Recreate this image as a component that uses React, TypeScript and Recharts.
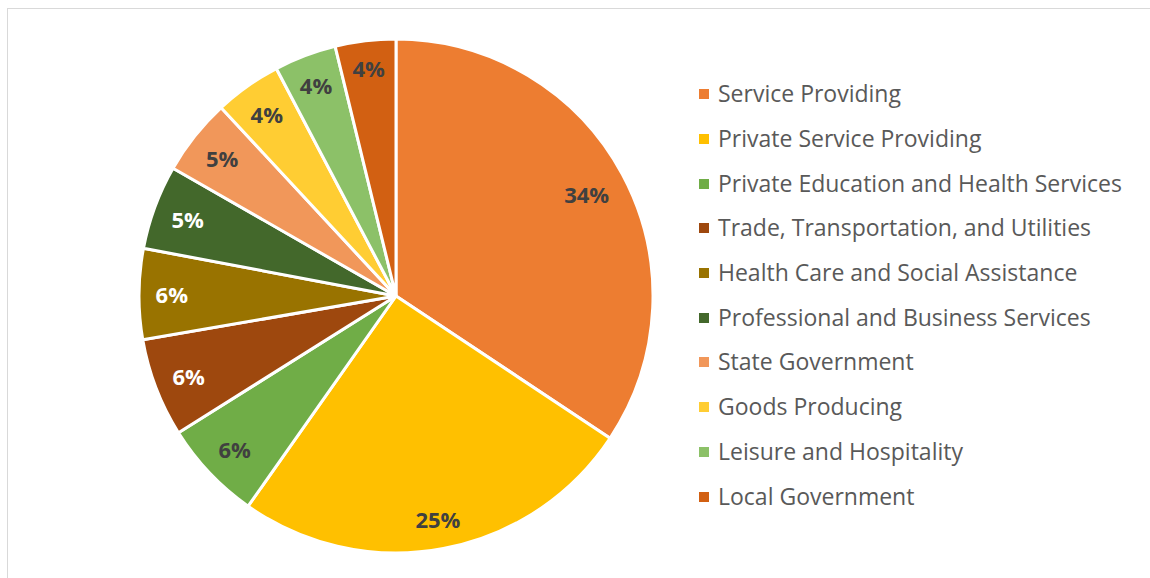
import React from "react";
import { PieChart, Pie, Cell, Legend } from "recharts";

const categories = [
  "Service Providing",
  "Private Service Providing",
  "Private Education and Health Services",
  "Trade, Transportation, and Utilities",
  "Health Care and Social Assistance",
  "Professional and Business Services",
  "State Government",
  "Goods Producing",
  "Leisure and Hospitality",
  "Local Government",
];

const shares = [34.3, 25.4, 6.3, 6.2, 5.7, 5.3, 4.8, 4.2, 3.9, 3.8];

const sliceColors = [
  "#ED7D31",
  "#FFC000",
  "#70AD47",
  "#9E480E",
  "#997300",
  "#43682B",
  "#F1975A",
  "#FFCD33",
  "#8CC168",
  "#D26012",
];

const labelColors = [
  "#404040",
  "#404040",
  "#404040",
  "#FFFFFF",
  "#FFFFFF",
  "#FFFFFF",
  "#404040",
  "#404040",
  "#404040",
  "#404040",
];

const data = categories.map((name, i) => ({ name, value: shares[i] }));

const RAD = Math.PI / 180;
const LABEL_FONT = 22;

const renderLabel = (props: any) => {
  const { cx, cy, midAngle, outerRadius, percent, index } = props;
  const text = `${Math.round(percent * 100)}%`;
  const digits = text.length - 1;
  const w = digits * 0.57 * LABEL_FONT + 0.86 * LABEL_FONT;
  const h = 18;
  const ux = Math.cos(-midAngle * RAD);
  const uy = Math.sin(-midAngle * RAD);
  const extent = (w / 2) * Math.abs(ux) + (h / 2) * Math.abs(uy);
  const r = outerRadius - 17 - extent;
  const x = cx + r * ux;
  const y = cy + r * uy;
  return (
    <text
      x={x}
      y={y}
      fill={labelColors[index]}
      textAnchor="middle"
      dominantBaseline="central"
      style={{ fontFamily: "'Open Sans', sans-serif", fontWeight: 700, fontSize: LABEL_FONT }}
    >
      {text}
    </text>
  );
};

const LegendContent = () => (
  <div style={{ fontFamily: "'Open Sans', sans-serif", fontSize: 23, color: "#595959" }}>
    {categories.map((c, i) => (
      <div
        key={c}
        style={{ height: 44.7, display: "flex", alignItems: "center", whiteSpace: "nowrap" }}
      >
        <span
          style={{
            display: "inline-block",
            width: 10,
            height: 10,
            background: sliceColors[i],
            marginRight: 9,
            marginTop: 2,
          }}
        />
        <span>{c}</span>
      </div>
    ))}
  </div>
);

export default function App() {
  return (
    <div
      style={{
        position: "fixed",
        left: 7,
        top: 8,
        width: 1143,
        height: 570,
        borderTop: "1.5px solid #D9D9D9",
        borderLeft: "1.5px solid #D9D9D9",
        boxSizing: "border-box",
        background: "#fff",
      }}
    >
      <PieChart width={1141} height={568} margin={{ top: 0, right: 0, bottom: 0, left: 0 }}>
        <Pie
          data={data}
          dataKey="value"
          nameKey="name"
          cx={388}
          cy={287}
          outerRadius={257}
          startAngle={90}
          endAngle={-270}
          stroke="#FFFFFF"
          strokeWidth={3}
          label={renderLabel}
          labelLine={false}
          isAnimationActive={false}
        >
          {data.map((d, i) => (
            <Cell key={d.name} fill={sliceColors[i]} />
          ))}
        </Pie>
        <Legend
          content={<LegendContent />}
          wrapperStyle={{ left: 691, top: 62, width: 450 }}
        />
      </PieChart>
    </div>
  );
}
